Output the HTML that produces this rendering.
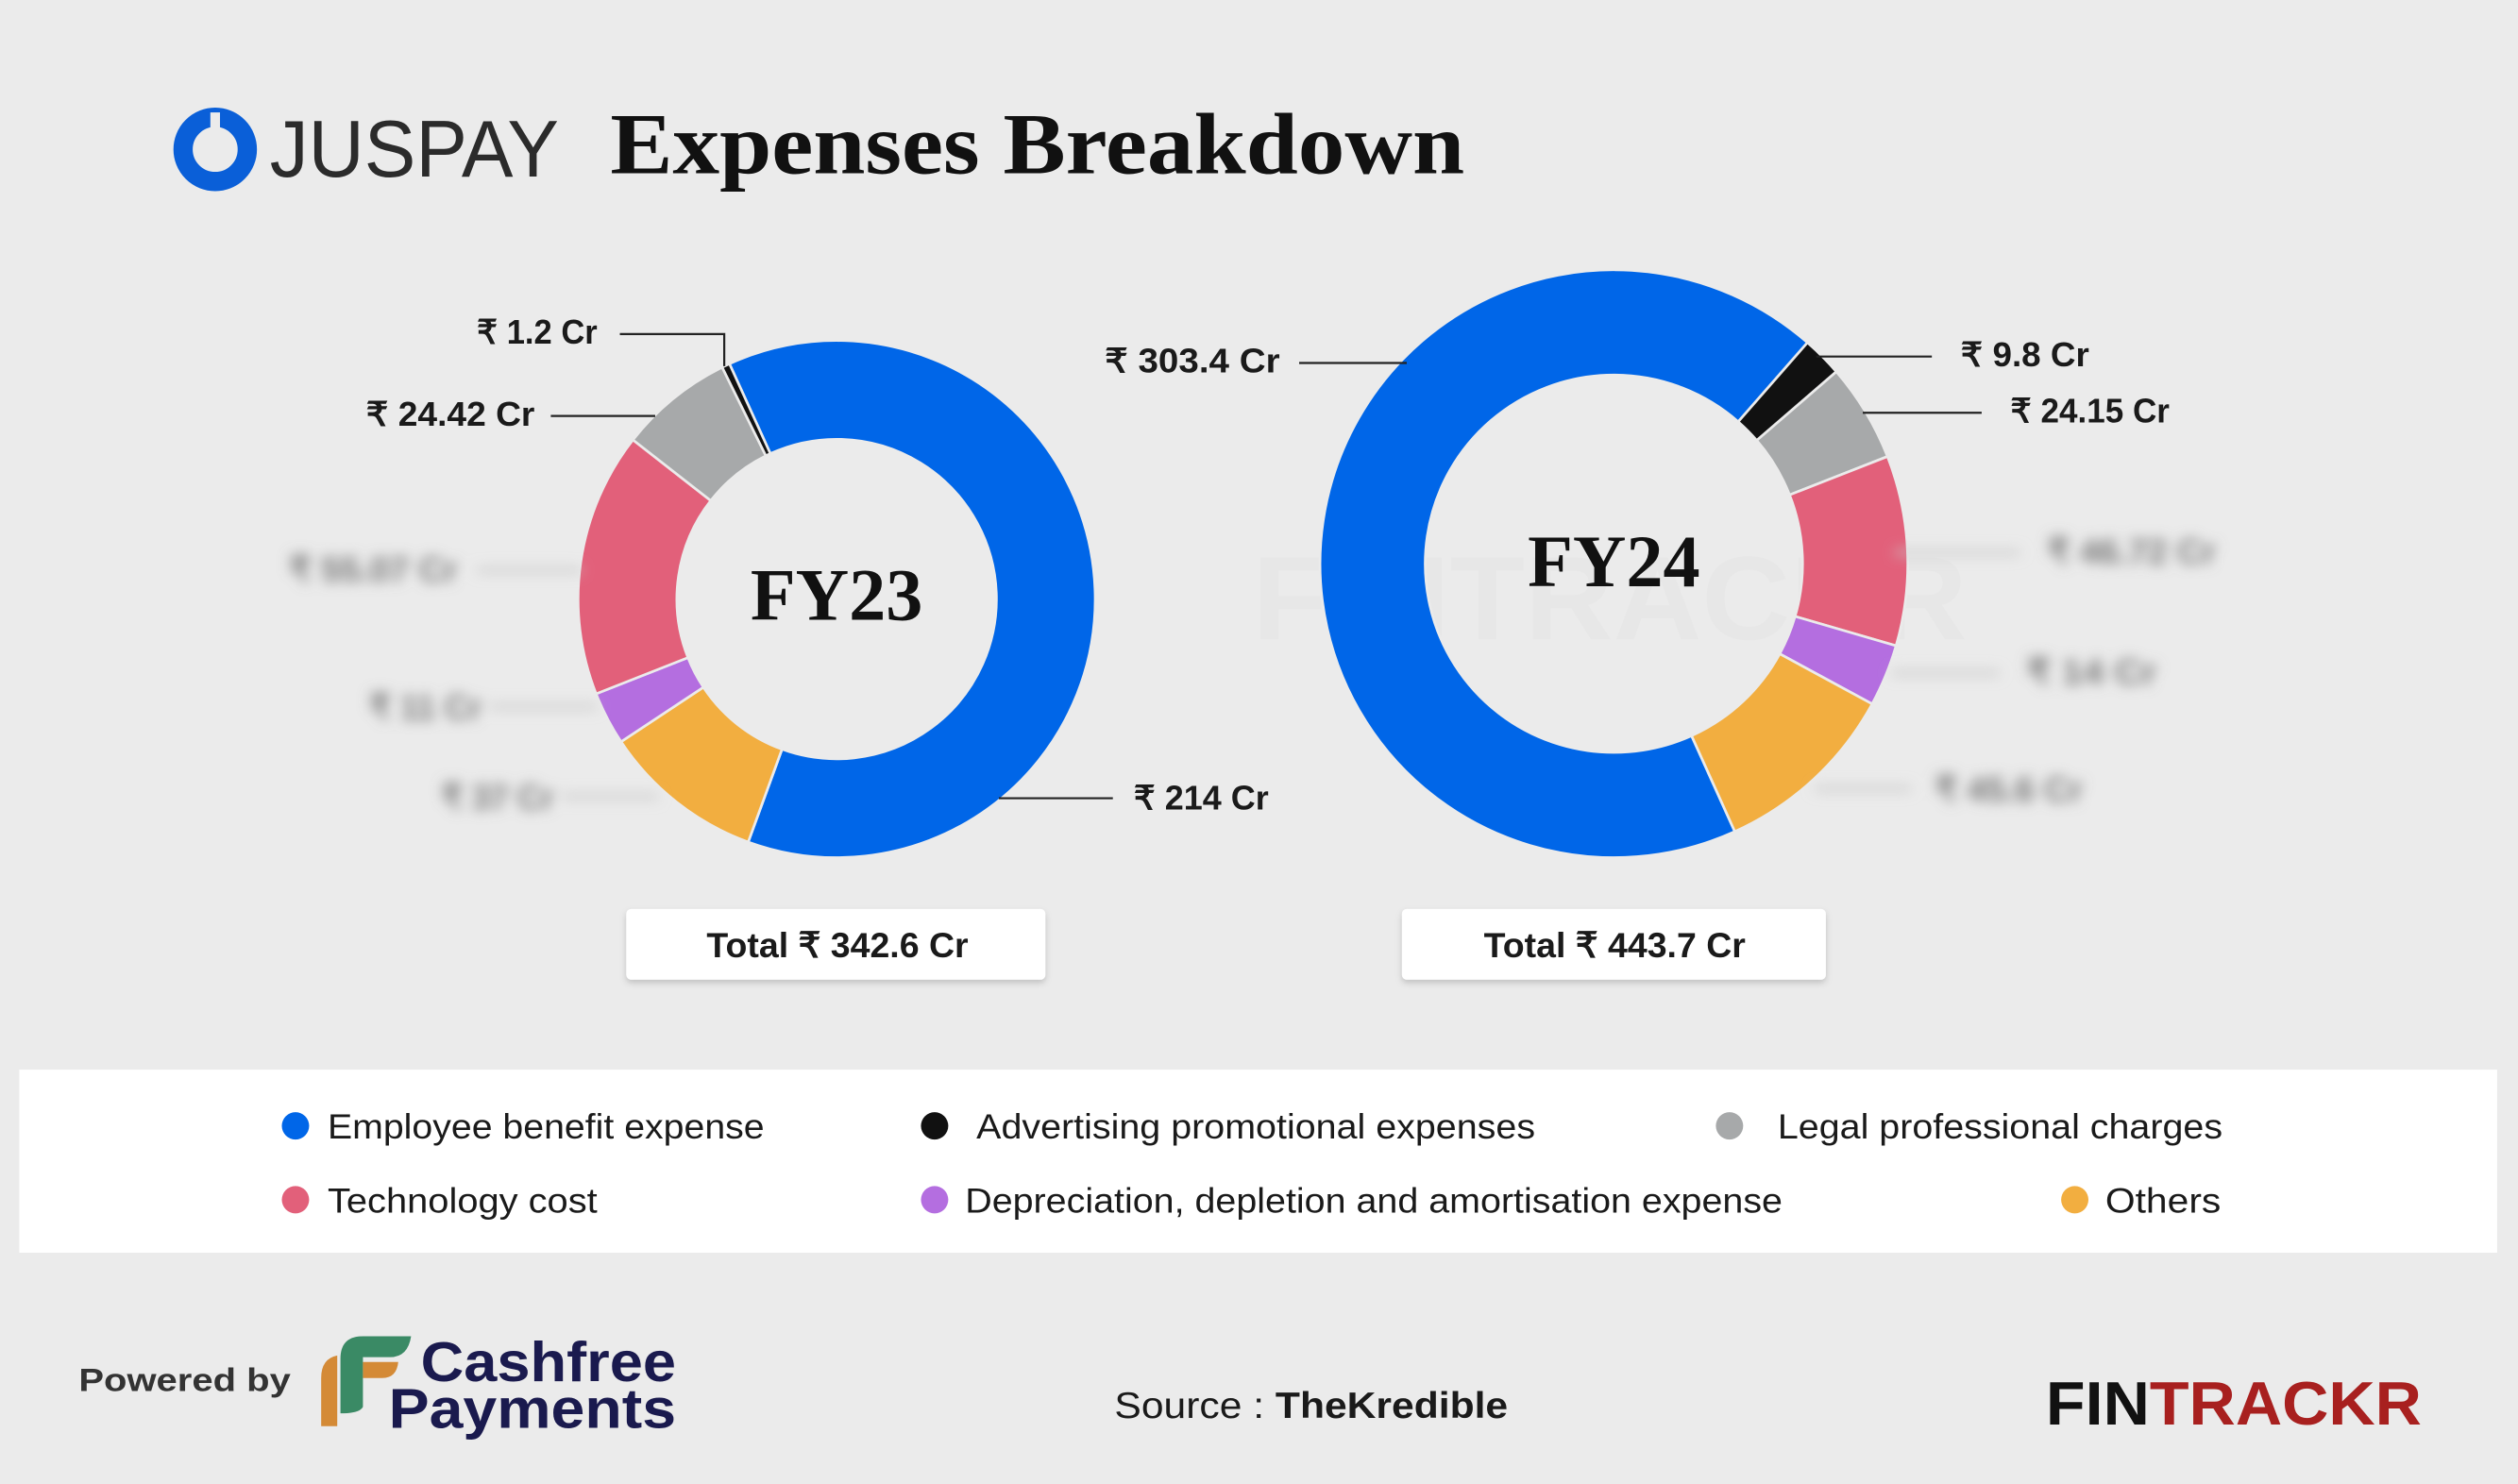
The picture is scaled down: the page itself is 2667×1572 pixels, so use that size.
<!DOCTYPE html>
<html><head><meta charset="utf-8">
<style>
html,body{margin:0;padding:0;background:#ebebeb;}
svg{display:block;}
.s{font-family:"Liberation Sans",sans-serif;}
.r{font-family:"Liberation Serif",serif;font-weight:bold;}
</style></head>
<body>
<svg id="c" width="2667" height="1572" viewBox="0 0 1568 924" preserveAspectRatio="none" xmlns="http://www.w3.org/2000/svg">
<defs>
<filter id="bl" x="-20%" y="-50%" width="140%" height="200%"><feGaussianBlur stdDeviation="4"/></filter>
<filter id="sh" x="-10%" y="-30%" width="120%" height="160%"><feDropShadow dx="0" dy="2" stdDeviation="2" flood-color="#000" flood-opacity="0.18"/></filter>
</defs>
<rect width="1568" height="924" fill="#ebebeb"/>
<!-- header -->
<circle cx="134" cy="93" r="20" fill="none" stroke="#0a5fd8" stroke-width="12"/>
<rect x="131" y="70" width="6" height="10" fill="#ebebeb"/>
<text x="168" y="110" class="s" font-size="50" fill="#2b2b2b" textLength="180" lengthAdjust="spacingAndGlyphs">JUSPAY</text>
<text x="380" y="108" class="r" font-size="54" fill="#111" textLength="532" lengthAdjust="spacingAndGlyphs">Expenses Breakdown</text>
<!-- watermark -->
<text x="780" y="398" class="s" font-size="74" font-weight="bold" fill="#e7e7e7" textLength="445" lengthAdjust="spacingAndGlyphs">FINTRACKR</text>
<g id="d1"></g><g id="d2"></g>
<text x="521" y="386" class="r" font-size="46" fill="#111" text-anchor="middle">FY23</text>
<text x="1005" y="365" class="r" font-size="46" fill="#111" text-anchor="middle">FY24</text>
<!-- leader lines -->
<g stroke="#222" stroke-width="1.3" fill="none">
<polyline points="386,208 451,208 451,228"/>
<line x1="343" y1="259" x2="408" y2="259"/>
<line x1="622" y1="497" x2="693" y2="497"/>
<line x1="809" y1="226" x2="876" y2="226"/>
<line x1="1131" y1="222" x2="1203" y2="222"/>
<line x1="1160" y1="257" x2="1234" y2="257"/>
</g>
<g class="s" font-size="21" fill="#1a1a1a" font-weight="bold">
<text x="297" y="214" textLength="75" lengthAdjust="spacingAndGlyphs">₹ 1.2 Cr</text>
<text x="228" y="265" textLength="105" lengthAdjust="spacingAndGlyphs">₹ 24.42 Cr</text>
<text x="706" y="504" textLength="84" lengthAdjust="spacingAndGlyphs">₹ 214 Cr</text>
<text x="688" y="232" textLength="109" lengthAdjust="spacingAndGlyphs">₹ 303.4 Cr</text>
<text x="1221" y="228" textLength="80" lengthAdjust="spacingAndGlyphs">₹ 9.8 Cr</text>
<text x="1252" y="263" textLength="99" lengthAdjust="spacingAndGlyphs">₹ 24.15 Cr</text>
</g>
<!-- blurred labels -->
<g filter="url(#bl)">
<g stroke="#c8c8c8" stroke-width="3">
<line x1="297" y1="355" x2="362" y2="355"/>
<line x1="305" y1="440" x2="372" y2="440"/>
<line x1="350" y1="496" x2="410" y2="496"/>
<line x1="1180" y1="344" x2="1258" y2="344"/>
<line x1="1178" y1="419" x2="1245" y2="419"/>
<line x1="1130" y1="491" x2="1190" y2="491"/>
</g>
<g class="s" font-size="22" font-weight="bold" fill="#777">
<text x="180" y="362" textLength="105" lengthAdjust="spacingAndGlyphs">₹ 55.07 Cr</text>
<text x="230" y="448" textLength="70" lengthAdjust="spacingAndGlyphs">₹ 11 Cr</text>
<text x="275" y="504" textLength="70" lengthAdjust="spacingAndGlyphs">₹ 37 Cr</text>
<text x="1275" y="351" textLength="105" lengthAdjust="spacingAndGlyphs">₹ 46.72 Cr</text>
<text x="1262" y="426" textLength="81" lengthAdjust="spacingAndGlyphs">₹ 14 Cr</text>
<text x="1205" y="499" textLength="92" lengthAdjust="spacingAndGlyphs">₹ 45.6 Cr</text>
</g>
</g>
<!-- totals -->
<rect x="390" y="566" width="261" height="44" rx="3" fill="#fff" filter="url(#sh)"/>
<rect x="873" y="566" width="264" height="44" rx="3" fill="#fff" filter="url(#sh)"/>
<g class="s" font-size="22" font-weight="bold" fill="#1a1a1a">
<text x="440" y="596" textLength="163" lengthAdjust="spacingAndGlyphs">Total ₹ 342.6 Cr</text>
<text x="924" y="596" textLength="163" lengthAdjust="spacingAndGlyphs">Total ₹ 443.7 Cr</text>
</g>
<!-- legend -->
<rect x="12" y="666" width="1543" height="114" fill="#fff"/>
<circle cx="184" cy="701" r="8.5" fill="#0066e8"/>
<circle cx="582" cy="701" r="8.5" fill="#111"/>
<circle cx="1077" cy="701" r="8.5" fill="#a7a9aa"/>
<circle cx="184" cy="747" r="8.5" fill="#e2607a"/>
<circle cx="582" cy="747" r="8.5" fill="#b46ee0"/>
<circle cx="1292" cy="747" r="8.5" fill="#f2ae40"/>
<g class="s" font-size="22" fill="#1a1a1a">
<text x="204" y="709" textLength="272" lengthAdjust="spacingAndGlyphs">Employee benefit expense</text>
<text x="608" y="709" textLength="348" lengthAdjust="spacingAndGlyphs">Advertising promotional expenses</text>
<text x="1107" y="709" textLength="277" lengthAdjust="spacingAndGlyphs">Legal professional charges</text>
<text x="204" y="755" textLength="168" lengthAdjust="spacingAndGlyphs">Technology cost</text>
<text x="601" y="755" textLength="509" lengthAdjust="spacingAndGlyphs">Depreciation, depletion and amortisation expense</text>
<text x="1311" y="755" textLength="72" lengthAdjust="spacingAndGlyphs">Others</text>
</g>
<!-- footer -->
<text x="49" y="866" class="s" font-size="20" font-weight="bold" fill="#333" textLength="132" lengthAdjust="spacingAndGlyphs">Powered by</text>
<path d="M207,888 L200,888 L200,858 Q200,846 210,844 L210,888 Z" fill="#d48a36"/>
<path d="M212,880 L212,846 Q212,832 226,832 L256,832 Q254,845 243,845 L226,845 L226,876 Q224,880 212,880 Z" fill="#3a8a65"/>
<path d="M226,848 L248,848 Q247,858 238,858 L226,858 Z" fill="#d48a36"/>
<text x="262" y="860" class="s" font-size="35" font-weight="bold" fill="#1a1a4e" textLength="159" lengthAdjust="spacingAndGlyphs">Cashfree</text>
<text x="242" y="889" class="s" font-size="35" font-weight="bold" fill="#1a1a4e" textLength="179" lengthAdjust="spacingAndGlyphs">Payments</text>
<text x="694" y="883" class="s" font-size="23" fill="#1a1a1a" textLength="245" lengthAdjust="spacingAndGlyphs">Source : <tspan font-weight="bold">TheKredible</tspan></text>
<text x="1274" y="887" class="s" font-size="38" font-weight="bold" textLength="234" lengthAdjust="spacingAndGlyphs"><tspan fill="#111">FIN</tspan><tspan fill="#a8201f">TRACKR</tspan></text>
</svg>
<script>
function arc(cx,cy,R,r,a0,a1,col){
  function p(rad,a){var t=(a-90)*Math.PI/180;return [(cx+rad*Math.cos(t)).toFixed(2),(cy+rad*Math.sin(t)).toFixed(2)];}
  var lg=(a1-a0)>180?1:0;
  var o0=p(R,a0),o1=p(R,a1),i1=p(r,a1),i0=p(r,a0);
  return '<path d="M'+o0+' A'+R+','+R+' 0 '+lg+' 1 '+o1+' L'+i1+' A'+r+','+r+' 0 '+lg+' 0 '+i0+' Z" fill="'+col+'" stroke="#ebebeb" stroke-width="1.6"/>';
}
var B='#0066e8',K='#111',G='#a7a9aa',P='#e2607a',V='#b46ee0',O='#f2ae40';
var s1=[[-24.5,200,B],[200,236.5,O],[236.5,248.5,V],[248.5,308,P],[308,333.7,G],[333.7,335.5,K]];
var s2=[[155.7,401.2,B],[41.2,49.2,K],[49.2,68.6,G],[68.6,106.2,P],[106.2,118.5,V],[118.5,155.7,O]];
var h='';s1.forEach(function(s){h+=arc(521,373,161,99.5,s[0],s[1],s[2]);});
document.getElementById('d1').innerHTML=h;
h='';s2.forEach(function(s){h+=arc(1005,351,183,117.5,s[0],s[1],s[2]);});
document.getElementById('d2').innerHTML=h;
</script>
</body></html>
